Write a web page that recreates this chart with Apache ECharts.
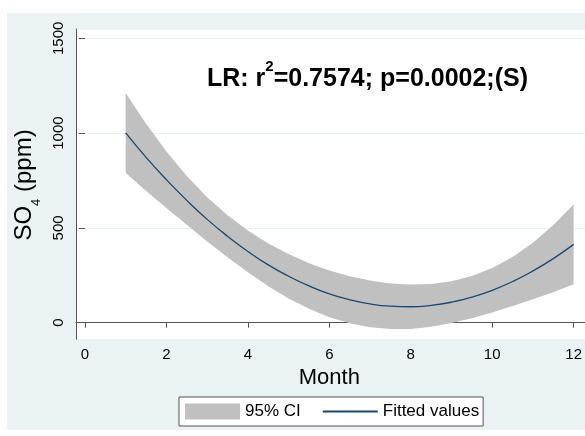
<!DOCTYPE html>
<html><head><meta charset="utf-8">
<script src="https://cdn.jsdelivr.net/npm/echarts@6/dist/echarts.min.js"></script>
<style>
html,body{margin:0;padding:0;background:#fff;}
#wrap{position:relative;width:585px;height:436px;overflow:hidden;}
#bg{position:absolute;left:7px;top:13px;width:578px;height:417px;background:#EAF2F3;}
#chart{position:absolute;left:0;top:0;width:585px;height:436px;}
</style></head><body>
<div id="wrap"><div id="bg"></div><div id="chart"></div></div>
<script>
// Month positions
const months  = [1, 1.5, 2, 2.5, 3, 3.5, 4, 4.5, 5, 5.5, 6, 6.5, 7, 7.5, 8, 8.5, 9, 9.5, 10, 10.5, 11, 11.5, 12];
// Fitted values (ppm)
const fitted  = [1001, 872, 754, 645, 545, 456, 376, 305, 245, 194, 152, 121, 99, 87, 84, 91, 108, 135, 171, 217, 273, 338, 413];
// 95% CI bounds (ppm)
const ciLower = [791, 695, 605, 516, 428, 345, 266, 192, 128, 74, 29, -3, -24, -33, -33, -22, -2, 24, 54, 88, 124, 161, 203];
const ciUpper = [1211, 1049, 903, 774, 662, 567, 486, 418, 362, 314, 275, 245, 222, 207, 201, 204, 218, 246, 288, 346, 422, 515, 623];
// Axis ticks
const xTickMin = 0, xTickMax = 12, xTickStep = 2;
const yTickMin = 0, yTickMax = 1500, yTickStep = 500;
const seriesNames = ['95% CI', 'Fitted values'];
const xTitle = 'Month';
const yTitle = 'SO{sub|4} (ppm)';
const annotation = 'LR: r{sup|2}=0.7574; p=0.0002;(S)';

const FONT = '"Liberation Sans", Arial, Helvetica, sans-serif';
const AXIS = '#555';
const NAVY = '#1A476F';
const GRAY = '#C0C0C0';
const GRIDC = '#EAF2F3';

const bandData = months.map((m, i) => [m, ciLower[i], ciUpper[i]]);
const fitData = months.map((m, i) => [m, fitted[i]]);

const chart = echarts.init(document.getElementById('chart'), null, {renderer: 'canvas'});
chart.setOption({
  animation: false,
  backgroundColor: 'transparent',
  grid: [
    {left: 85, right: 10, top: 38.3, bottom: 113.3, show: false},
    {left: 76, width: 511, top: 29, bottom: 96.7, show: true, backgroundColor: '#fff', borderWidth: 0}
  ],
  xAxis: [
    {
      gridIndex: 0, type: 'value', min: xTickMin, max: xTickMax, interval: xTickStep,
      position: 'bottom', offset: 16.6,
      axisLine: {show: false},
      axisTick: {show: true, length: 5, lineStyle: {color: AXIS, width: 1}},
      axisLabel: {fontSize: 15, fontFamily: FONT, color: '#000', margin: 8, formatter: v => String(v)},
      splitLine: {show: false},
      name: xTitle, nameLocation: 'middle', nameGap: 25,
      nameTextStyle: {fontSize: 22, fontFamily: FONT, color: '#000'}
    },
    {
      gridIndex: 1, type: 'value', min: 0, max: 1,
      axisLine: {show: true, lineStyle: {color: AXIS, width: 1}},
      axisTick: {show: false}, axisLabel: {show: false}, splitLine: {show: false}
    }
  ],
  yAxis: [
    {
      gridIndex: 0, type: 'value', min: yTickMin, max: yTickMax, interval: yTickStep,
      offset: 9,
      axisLine: {show: false},
      axisTick: {show: true, length: 6, lineStyle: {color: AXIS, width: 1}},
      axisLabel: {rotate: 90, fontSize: 15, fontFamily: FONT, color: '#000', margin: 10, formatter: v => String(v)},
      splitLine: {show: false}
    },
    {
      gridIndex: 1, type: 'value', min: -88, max: 1549, minInterval: yTickStep, maxInterval: yTickStep,
      axisLine: {show: true, lineStyle: {color: AXIS, width: 1}},
      axisTick: {show: false}, axisLabel: {show: false},
      splitLine: {show: true, lineStyle: {color: GRIDC, width: 1}}
    }
  ],
  legend: {
    left: 179, top: 397, orient: 'horizontal',
    data: [
      {name: seriesNames[0], icon: 'rect', itemStyle: {color: GRAY, borderWidth: 0, opacity: 1}},
      {name: seriesNames[1], itemStyle: {opacity: 0}}
    ],
    itemWidth: 55, itemHeight: 16, itemGap: 21,
    padding: [6, 4, 6, 6],
    borderColor: AXIS, borderWidth: 1, borderRadius: 0, backgroundColor: '#fff',
    selectedMode: false,
    textStyle: {fontFamily: FONT, fontSize: 17, color: '#000', lineHeight: 16}
  },
  series: [
    {
      name: seriesNames[0], type: 'custom', xAxisIndex: 0, yAxisIndex: 0,
      data: bandData, encode: {x: 0, y: [1, 2]}, clip: false, silent: true,
      itemStyle: {color: GRAY},
      renderItem: function (params, api) {
        if (params.dataIndex !== 0) return null;
        const pts = [];
        for (let i = 0; i < months.length; i++) pts.push(api.coord([months[i], ciUpper[i]]));
        for (let i = months.length - 1; i >= 0; i--) pts.push(api.coord([months[i], ciLower[i]]));
        return {type: 'polygon', shape: {points: pts}, style: {fill: GRAY, stroke: null}};
      },
      z: 2
    },
    {
      name: seriesNames[1], type: 'line', xAxisIndex: 0, yAxisIndex: 0,
      data: fitData, smooth: true, symbol: 'none', showSymbol: false, clip: false, silent: true,
      color: NAVY, lineStyle: {width: 1.3, color: NAVY}, z: 5
    }
  ],
  graphic: [
    {
      type: 'text', x: 367.5, y: 79.5,
      style: {
        text: annotation, fontFamily: FONT, fontWeight: 'bold', fontSize: 25, fill: '#000',
        lineHeight: 40, align: 'center', verticalAlign: 'middle',
        rich: {sup: {fontFamily: FONT, fontWeight: 'bold', fontSize: 15, lineHeight: 15, verticalAlign: 'top', fill: '#000'}}
      }
    },
    {
      type: 'text', x: 24, y: 185, rotation: Math.PI / 2,
      style: {
        text: yTitle, fontFamily: FONT, fontSize: 24, fill: '#000',
        lineHeight: 38, align: 'center', verticalAlign: 'middle',
        rich: {sub: {fontFamily: FONT, fontSize: 13, lineHeight: 14, verticalAlign: 'bottom', fill: '#000'}}
      }
    }
  ]
});
</script>
</body></html>
